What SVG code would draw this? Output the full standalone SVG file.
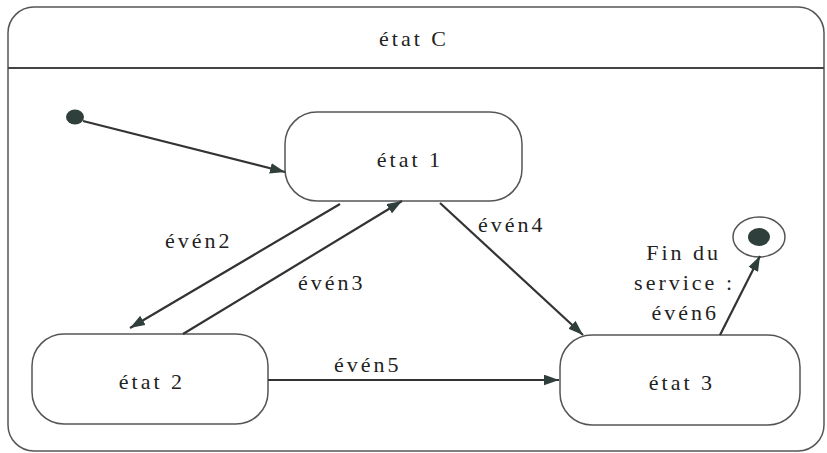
<svg xmlns="http://www.w3.org/2000/svg" width="827" height="453" viewBox="0 0 827 453">
<style>
.st{fill:#fff;stroke:#555;stroke-width:1.5}
.c{stroke:#333;stroke-width:2.2;fill:none;marker-end:url(#ah)}
</style>
<defs>
<marker id="ah" viewBox="0 0 14 10" refX="14" refY="5" markerWidth="15" markerHeight="11" markerUnits="userSpaceOnUse" orient="auto">
<path d="M0,0 L14,5 L0,10 z" fill="#2f3f3c"/>
</marker>
</defs>
<rect width="827" height="453" fill="#fff"/>
<g id="etatC">
<rect x="8" y="7" width="816" height="444" rx="26" ry="26" fill="#fff" stroke="#555" stroke-width="1.5"/>
<line x1="8" y1="68" x2="824" y2="68" stroke="#444" stroke-width="2"/>
<text font-family="Liberation Serif, serif" font-size="22" fill="#222" letter-spacing="3" x="414" y="46" text-anchor="middle">état C</text>
</g>
<g id="initial"><ellipse cx="75" cy="117" rx="9" ry="7.5" fill="#2f3f3c"/></g>
<g id="etat1"><rect class="st" x="285" y="112" width="237" height="89" rx="32"/><text font-family="Liberation Serif, serif" font-size="22" fill="#222" letter-spacing="3" x="410" y="167" text-anchor="middle">état 1</text></g>
<g id="etat2"><rect class="st" x="32" y="334" width="236" height="90" rx="32"/><text font-family="Liberation Serif, serif" font-size="22" fill="#222" letter-spacing="3" x="152" y="389" text-anchor="middle">état 2</text></g>
<g id="etat3"><rect class="st" x="560" y="335" width="240" height="90" rx="32"/><text font-family="Liberation Serif, serif" font-size="22" fill="#222" letter-spacing="3" x="682" y="390" text-anchor="middle">état 3</text></g>
<g id="final"><ellipse cx="759" cy="237" rx="26" ry="20" fill="#fff" stroke="#555" stroke-width="1.5"/><ellipse cx="759" cy="237" rx="11" ry="9" fill="#2f3f3c"/></g>
<g id="connectors">
<line class="c" x1="83" y1="121" x2="285" y2="172"/>
<line class="c" x1="340" y1="204" x2="130" y2="328"/>
<line class="c" x1="183" y1="334" x2="402" y2="201"/>
<line class="c" x1="440" y1="203" x2="583" y2="335"/>
<line class="c" x1="268" y1="380" x2="559" y2="380"/>
<line class="c" x1="720" y1="335" x2="760" y2="256"/>
<g font-family="Liberation Serif, serif" font-size="22" fill="#222" letter-spacing="3">
<text x="165" y="248">évén2</text>
<text x="298" y="290">évén3</text>
<text x="478" y="232">évén4</text>
<text x="334" y="372">évén5</text>
<text x="721" y="260" text-anchor="end">Fin du</text>
<text x="735" y="290" text-anchor="end">service :</text>
<text x="719" y="320" text-anchor="end">évén6</text>
</g>
</g>
</svg>
